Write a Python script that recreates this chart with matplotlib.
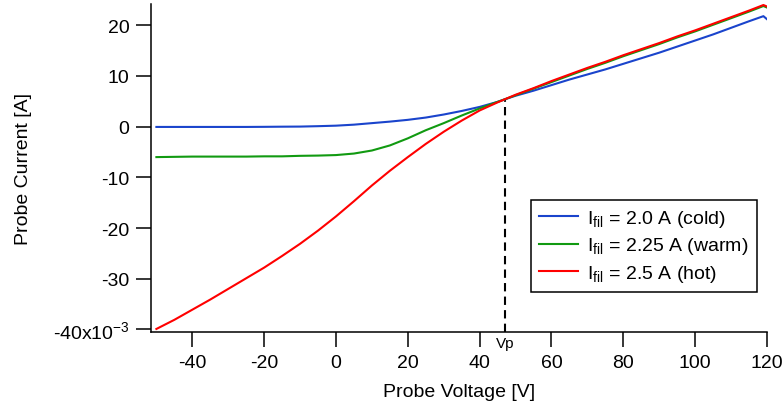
import numpy as np
import matplotlib
matplotlib.use("Agg")
from matplotlib import pyplot as plt

plt.rcParams['font.family'] = ['Liberation Sans', 'DejaVu Sans']
plt.rcParams['mathtext.fontset'] = 'custom'
plt.rcParams['mathtext.rm'] = 'Liberation Sans'
plt.rcParams['mathtext.it'] = 'Liberation Sans:italic'
plt.rcParams['mathtext.bf'] = 'Liberation Sans:bold'
plt.rcParams['axes.unicode_minus'] = False

# probe voltage [V]
volts = [-50, -45, -40, -35, -30, -25, -20, -15, -10, -5, 0, 5, 10, 15, 20,
         25, 30, 35, 40, 45, 47, 50, 55, 60, 65, 70, 75, 80, 85, 90, 95,
         100, 105, 110, 115, 119, 120]

# probe current [mA]
i_cold = [-0.05, -0.05, -0.05, -0.05, -0.05, -0.05, -0.03, 0.0, 0.02, 0.1,
          0.2, 0.4, 0.7, 1.0, 1.35, 1.8, 2.4, 3.1, 3.9, 4.9, 5.4, 6.1, 7.1,
          8.2, 9.3, 10.3, 11.3, 12.4, 13.5, 14.6, 15.8, 17.0, 18.2, 19.5,
          20.8, 21.8, 21.2]
i_warm = [-6.0, -5.95, -5.9, -5.9, -5.9, -5.9, -5.85, -5.85, -5.75, -5.7,
          -5.6, -5.3, -4.7, -3.7, -2.3, -0.7, 0.7, 2.2, 3.6, 4.9, 5.4, 6.2,
          7.5, 8.8, 10.1, 11.4, 12.6, 13.9, 15.1, 16.3, 17.6, 18.8, 20.1,
          21.4, 22.7, 23.8, 23.5]
i_hot = [-39.9, -38.1, -36.1, -34.1, -32.0, -29.9, -27.8, -25.5, -23.1,
         -20.5, -17.7, -14.7, -11.6, -8.7, -6.0, -3.4, -1.0, 1.2, 3.2, 4.8,
         5.4, 6.3, 7.6, 9.0, 10.3, 11.6, 12.8, 14.1, 15.3, 16.5, 17.8, 19.0,
         20.3, 21.6, 22.9, 24.0, 23.7]

labels = ['I$_{\\mathrm{fil}}$ = 2.0 A (cold)',
          'I$_{\\mathrm{fil}}$ = 2.25 A (warm)',
          'I$_{\\mathrm{fil}}$ = 2.5 A (hot)']
colors = ['#1a44cc', '#119a11', '#ff0000']

v_plasma = 47.0
i_plasma = 5.4

yticks = [-40, -30, -20, -10, 0, 10, 20]
yticklabels = ['-40x10$^{\\mathrm{-3}}$', '-30', '-20', '-10', '0', '10', '20']
xticks = [-40, -20, 0, 20, 40, 60, 80, 100, 120]

fig = plt.figure(figsize=(7.84, 4.10), dpi=100)
ax = fig.add_axes([151/784, 1 - 333/410, 616/784, 328/410])

for y, c, lab in zip([i_cold, i_warm, i_hot], colors, labels):
    ax.plot(volts, y, color=c, lw=1.5, label=lab)

ylo, yhi = -40.5, 24.2
ax.plot([v_plasma, v_plasma], [ylo, i_plasma], color='k', lw=1.5,
        dashes=(4, 2.5), zorder=1)

ax.set_xlim(-51.5, 120)
ax.set_ylim(ylo, yhi)
ax.set_xticks(xticks)
ax.set_yticks(yticks)
ax.set_yticklabels(yticklabels)

for s in ['top', 'right']:
    ax.spines[s].set_visible(False)
for s in ['left', 'bottom']:
    ax.spines[s].set_linewidth(1.1)
ax.tick_params(direction='out', length=10.5, width=1.1, labelsize=14, pad=5)

ax.set_xlabel('Probe Voltage [V]', fontsize=14)
ax.set_ylabel('Probe Current [A]', fontsize=14)
ax.xaxis.set_label_coords(0.5, -51/328)
ax.yaxis.set_label_coords(-119/616, 0.5)

ax.annotate('Vp', xy=(v_plasma, 0), xycoords=('data', 'axes fraction'),
            xytext=(0, -3), textcoords='offset points',
            ha='center', va='top', fontsize=11)

leg = ax.legend(loc='lower left', bbox_to_anchor=(0.617, 0.122),
                fontsize=14, fancybox=False, framealpha=1,
                edgecolor='k', handlelength=2.0, borderpad=0.4,
                labelspacing=0.35, handletextpad=0.5,
                borderaxespad=0)
leg.get_frame().set_linewidth(1.1)

fig.savefig('out.png', dpi=100)
